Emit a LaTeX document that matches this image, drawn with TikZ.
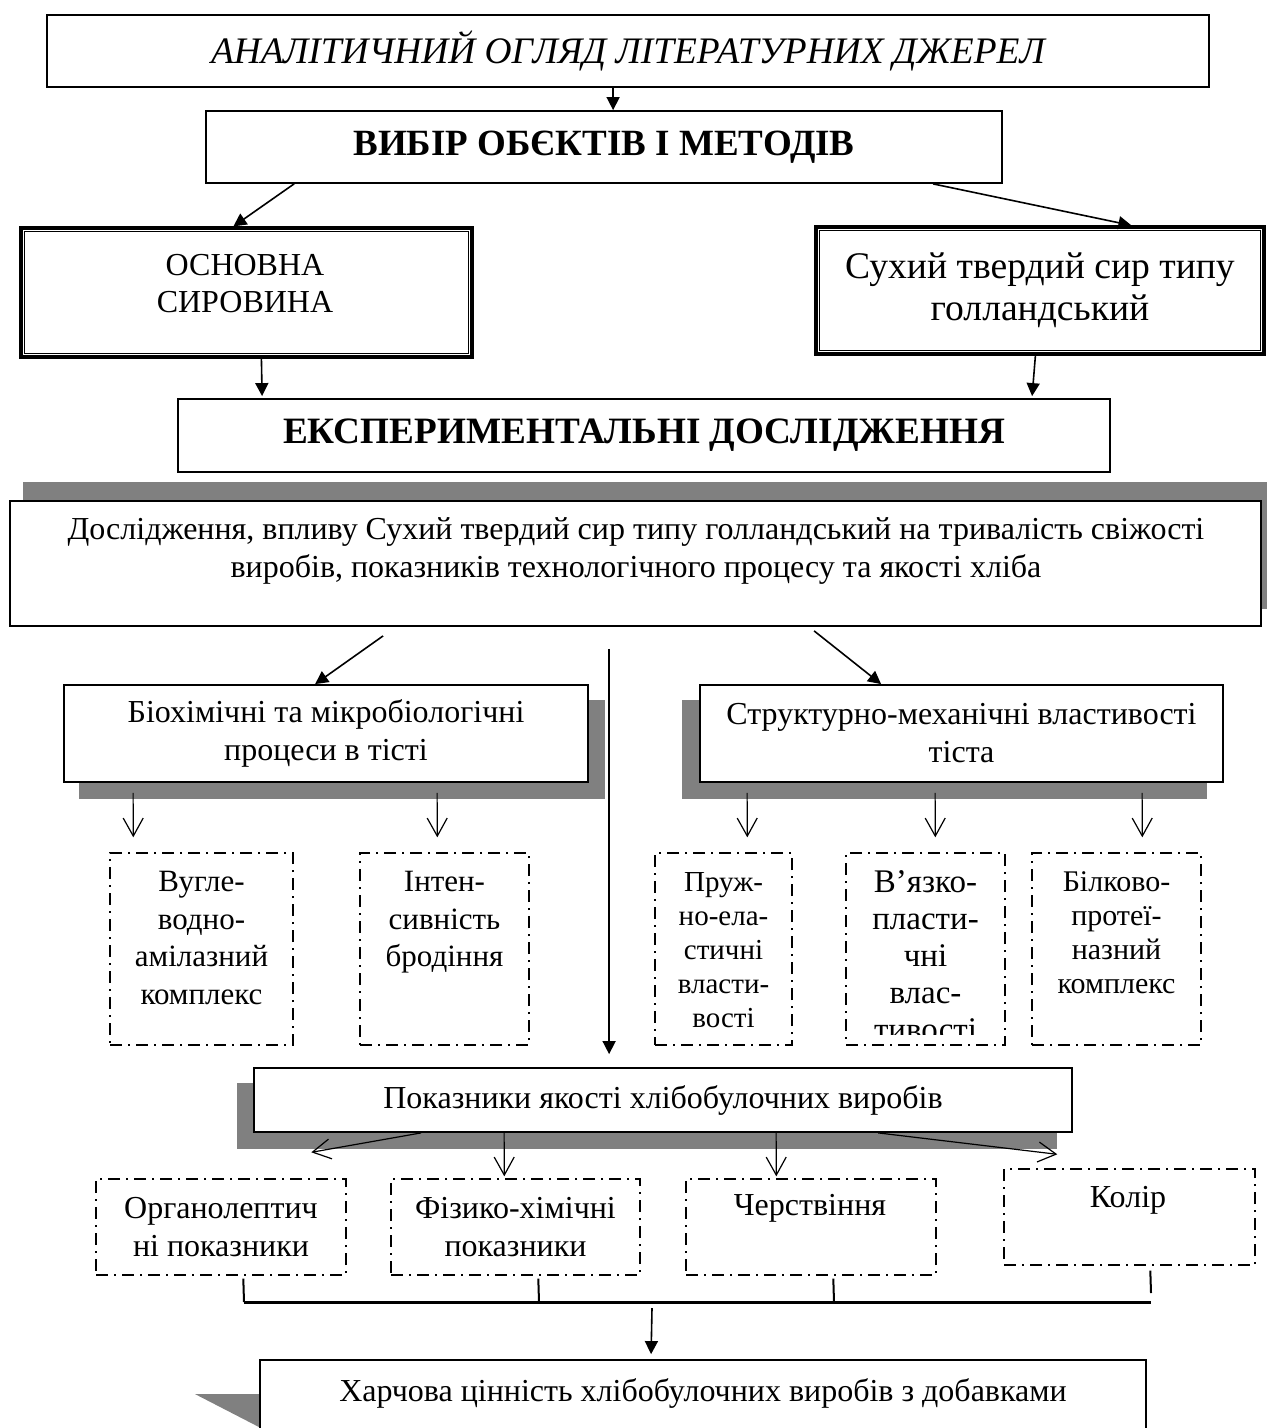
\documentclass[tikz,border=0pt]{standalone}
\usepackage{fontspec}
\setmainfont{Liberation Serif}
\usetikzlibrary{arrows.meta,calc,backgrounds}
\definecolor{shd}{RGB}{128,128,128}
\begin{document}
\begin{tikzpicture}[x=0.5pt,y=-0.5pt,
  box/.style={draw, line width=0.9pt, fill=white, inner sep=0pt, align=center},
  dbox/.style={draw, line width=1.6pt, fill=white, inner sep=0pt, align=center},
  dashbox/.style={draw, line width=0.7pt, dash pattern=on 6pt off 3pt on 1pt off 3pt, fill=white, inner sep=0pt, align=center},
  txt/.style={inner sep=0pt, align=center},
  farr/.style={line width=0.8pt, -{Triangle[length=6.5pt,width=6.5pt]}},
  oarr/.style={line width=0.6pt, -{Straight Barb[length=9pt,width=10pt,line width=0.6pt]}},
  fa/.style={font=\fontsize{16}{19}\selectfont},
]
\useasboundingbox (0,0) rectangle (1266,1428);

% boxes
\node[box, minimum width=581pt, minimum height=36pt, font=\fontsize{18.7}{22}\selectfont\itshape] (top) at (628,51) {АНАЛІТИЧНИЙ ОГЛЯД ЛІТЕРАТУРНИХ ДЖЕРЕЛ};
\node[box, minimum width=398pt, minimum height=36pt, font=\fontsize{18.5}{20}\selectfont\bfseries] (vyb) at (604,147) {ВИБІР ОБЄКТІВ І МЕТОДІВ};

\node[dbox, minimum width=225.5pt, minimum height=64.5pt] (osn) at (246.5,292.5) {};
\draw[line width=0.6pt] ($(osn.north west)+(5,5)$) rectangle ($(osn.south east)+(-5,-5)$);
\node[txt, font=\fontsize{16}{18.5}\selectfont] (osnt) at (245,283.5) {ОСНОВНА\\СИРОВИНА};

\node[dbox, minimum width=224pt, minimum height=63.5pt, font=\fontsize{18.8}{21}\selectfont] (sukh) at (1040,290.5) {Сухий твердий сир типу\\голландський};
\draw[line width=0.6pt] ($(sukh.north west)+(5,5)$) rectangle ($(sukh.south east)+(-5,-5)$);

\node[box, minimum width=466pt, minimum height=36.5pt, font=\fontsize{18.6}{22}\selectfont\bfseries] (eksp) at (644,435.5) {ЕКСПЕРИМЕНТАЛЬНІ ДОСЛІДЖЕННЯ};

\node[box, minimum width=625.5pt, minimum height=62.5pt] (dosl) at (635.5,563.5) {};
\node[txt, font=\fontsize{16}{19}\selectfont] (doslt) at (636,551) {Дослідження, впливу Сухий твердий сир типу голландський на тривалість свіжості\\виробів, показників технологічного процесу та якості хліба};

\node[box, fa, minimum width=262pt, minimum height=48.5pt] (bio) at (326,733.5) {Біохімічні та мікробіологічні\\процеси в тісті};
\node[box, fa, minimum width=261.5pt, minimum height=48.5pt] (str) at (961.5,733.5) {Структурно-механічні властивості\\тіста};

\node[dashbox, minimum width=91.5pt, minimum height=96pt] (d1) at (201.5,949) {};
\node[txt, anchor=north, font=\fontsize{15.5}{18.8}\selectfont] (d1t) at (201.5,871) {Вугле-\\водно-\\амілазний\\комплекс};
\node[dashbox, minimum width=84.5pt, minimum height=96pt] (d2) at (444.5,949) {};
\node[txt, anchor=north, font=\fontsize{15.5}{18.8}\selectfont] (d2t) at (444.5,871) {Інтен-\\сивність\\бродіння};
\node[dashbox, minimum width=68.5pt, minimum height=96pt] (d3) at (723.5,949) {};
\node[txt, anchor=north, font=\fontsize{14.5}{17}\selectfont] (d3t) at (723.5,872) {Пруж-\\но-ела-\\стичні\\власти-\\вості};
\node[dashbox, minimum width=79.5pt, minimum height=96pt] (d4) at (925.5,949) {};
\begin{scope}
\clip (846,853) rectangle (1005,1034);
\node[txt, anchor=north, font=\fontsize{16.5}{18.5}\selectfont] (d4t) at (925.5,870) {В’язко-\\пласти-\\чні\\влас-\\тивості};
\end{scope}
\node[dashbox, minimum width=84.5pt, minimum height=96pt] (d5) at (1116.5,949) {};
\node[txt, anchor=north, font=\fontsize{15}{17}\selectfont] (d5t) at (1116.5,871) {Білково-\\протеї-\\назний\\комплекс};

\node[box, fa, minimum width=409pt, minimum height=32pt] (pok) at (663,1100) {Показники якості хлібобулочних виробів};

\node[dashbox, fa, minimum width=125pt, minimum height=48pt] (o1) at (221,1227) {Органолептич\\ні показники};
\node[dashbox, fa, minimum width=124.5pt, minimum height=48pt] (o2) at (515.5,1227) {Фізико-хімічні\\показники};
\node[dashbox, minimum width=125pt, minimum height=48pt] (o3) at (811,1227) {};
\node[txt, fa] (o3t) at (810,1208) {Черствіння};
\node[dashbox, minimum width=125.5pt, minimum height=48pt] (o4) at (1129.5,1217) {};
\node[txt, fa] (o4t) at (1128,1200) {Колір};

\node[box, minimum width=443pt, minimum height=45pt] (harch) at (703,1405) {};
\node[txt, fa] (harcht) at (703,1393) {Харчова цінність хлібобулочних виробів з добавками};

% shadows
\begin{scope}[on background layer]
\fill[shd] ($(dosl.north west)+(14,-18)$) rectangle ($(dosl.south east)+(14,-18)$);
\fill[shd] ($(bio.north west)+(16,16)$) rectangle ($(bio.south east)+(16,16)$);
\fill[shd] ($(str.north west)+(-17,16)$) rectangle ($(str.south east)+(-17,16)$);
\fill[shd] ($(pok.north west)+(-16,16)$) rectangle ($(pok.south east)+(-16,16)$);
\fill[shd] ($(harch.north west)+(-64,35)$) -- ($(harch.north west)+(0,35)$) -- ($(harch.north west)+(0,68)$) -- cycle;
\end{scope}

% connectors
\draw[farr] ($(top.south west)+(567,0)$) -- ($(vyb.north west)+(408,0)$);
\draw[farr] ($(vyb.south west)+(89,0)$) -- ($(osn.north west)+(214,0)$);
\draw[farr] ($(vyb.south west)+(728,0)$) -- ($(sukh.north west)+(317,0)$);
\draw[farr] ($(osn.south west)+(242,0)$) -- ($(eksp.north west)+(85,-2)$);
\draw[farr] ($(sukh.south west)+(221,0)$) -- ($(eksp.north west)+(855,-2)$);

\draw[farr] ($(dosl.south west)+(374,9)$) -- ($(bio.north west)+(252,0)$);
\draw[farr] ($(dosl.south west)+(805,4)$) -- ($(str.north west)+(182,0)$);
\draw[farr] ($(dosl.south west)+(600,22)$) -- ($(pok.north west)+(356,-13)$);

\draw[oarr] ($(bio.south west)+(70,10)$) -- ($(d1.north west)+(24,-15)$);
\draw[oarr] ($(bio.south west)+(374,10)$) -- ($(d2.north west)+(78,-15)$);
\draw[oarr] ($(str.south west)+(48,10)$) -- ($(d3.north west)+(93,-15)$);
\draw[oarr] ($(str.south west)+(236,10)$) -- ($(d4.north west)+(90,-15)$);
\draw[oarr] ($(str.south west)+(443,10)$) -- ($(d5.north west)+(111,-15)$);

\draw[oarr] ($(pok.south west)+(168,0)$) -- ($(o1.north west)+(216,-26)$);
\draw[oarr] ($(pok.south west)+(251,0)$) -- ($(o2.north west)+(114,-2)$);
\draw[oarr] ($(pok.south west)+(523,0)$) -- ($(o3.north west)+(91,-2)$);
\draw[oarr] ($(pok.south west)+(625,0)$) -- ($(o4.north west)+(54,-14)$);

% bracket
\coordinate (brL) at (244,1302);
\coordinate (br2) at (539,1302);
\coordinate (br3) at (834,1302);
\coordinate (brA) at (652,1302);
\coordinate (brR) at (1151,1302);
\draw[line width=1.5pt] (brL) -- (brR);
\draw[line width=1pt] ($(o1.south west)+(148,3)$) -- (brL);
\draw[line width=1pt] ($(o2.south west)+(148,3)$) -- (br2);
\draw[line width=1pt] ($(o3.south west)+(148,3)$) -- (br3);
\draw[line width=1pt] ($(o4.south west)+(147,5)$) -- ($(brR)+(0,-9)$);
\draw[farr] ($(brA)+(0,6)$) -- ($(harch.north west)+(392,-5)$);
\end{tikzpicture}
\end{document}
